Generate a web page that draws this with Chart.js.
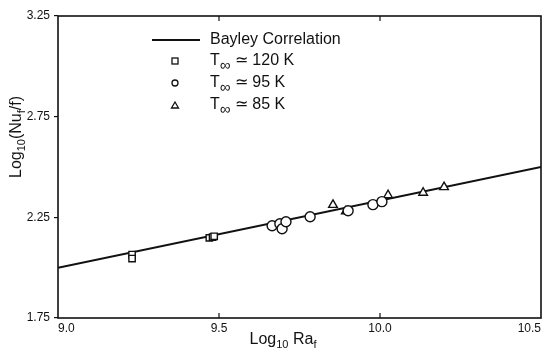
<!DOCTYPE html>
<html>
<head>
<meta charset="utf-8">
<script src="https://cdn.jsdelivr.net/npm/chart.js@4/dist/chart.umd.min.js"></script>
<style>
  html, body { margin: 0; padding: 0; background: #fff; }
  #wrap { width: 550px; height: 354px; position: relative; }
</style>
</head>
<body>
<div id="wrap"><canvas id="c"></canvas></div>
<script>
// Bayley correlation: log10(Nu/f) = log10(Ra)/3 - 1
const bayleyX = [9.0, 10.5];
const bayleyY = [2.0, 2.5];

// T_inf ~ 120 K (squares)
const t120X = [9.23, 9.23, 9.47, 9.48, 9.485];
const t120Y = [2.065, 2.045, 2.148, 2.152, 2.156];

// T_inf ~ 95 K (circles)
const t95X = [9.665, 9.689, 9.696, 9.708, 9.783, 9.901, 9.978, 10.006];
const t95Y = [2.208, 2.218, 2.193, 2.228, 2.253, 2.283, 2.313, 2.328];

// T_inf ~ 85 K (triangles)
const t85X = [9.854, 9.894, 10.025, 10.134, 10.199];
const t85Y = [2.312, 2.280, 2.360, 2.372, 2.400];

const xTicks = [9.0, 9.5, 10.0, 10.5];
const yTicks = [1.75, 2.25, 2.75, 3.25];

const FONT = '"Liberation Sans", Arial, sans-serif';

function pts(xs, ys) {
    return xs.map((x, i) => ({ x: x, y: ys[i] }));
}

// draws text with subscript parts, returns end x
function drawRich(ctx, parts, x, y, size) {
    let cx = x;
    for (const p of parts) {
        const s = p.sub ? Math.round(size * (p.scale || 0.68)) : size;
        ctx.font = s + 'px ' + FONT;
        ctx.fillText(p.t, cx, p.sub ? y + size * 0.3 : y);
        cx += ctx.measureText(p.t).width;
    }
    return cx;
}
function richWidth(ctx, parts, size) {
    let w = 0;
    for (const p of parts) {
        const s = p.sub ? Math.round(size * (p.scale || 0.68)) : size;
        ctx.font = s + 'px ' + FONT;
        w += ctx.measureText(p.t).width;
    }
    return w;
}

const decor = {
    id: 'decor',
    afterDraw(chart) {
        const ctx = chart.ctx;
        const a = chart.chartArea;
        const xs = chart.scales.x;
        ctx.save();
        ctx.strokeStyle = '#111';
        ctx.fillStyle = '#111';

        // frame
        ctx.lineWidth = 1.6;
        ctx.strokeRect(a.left, a.top, a.right - a.left, a.bottom - a.top);

        // inward ticks on top and bottom
        ctx.lineWidth = 1.2;
        for (const v of xTicks.slice(1, -1)) {
            const px = xs.getPixelForValue(v);
            ctx.beginPath();
            ctx.moveTo(px, a.bottom); ctx.lineTo(px, a.bottom - 5);
            ctx.moveTo(px, a.top); ctx.lineTo(px, a.top + 5);
            ctx.stroke();
        }

        // x title
        ctx.textBaseline = 'middle';
        ctx.textAlign = 'left';
        const xt = [{ t: 'Log' }, { t: '10', sub: true }, { t: ' Ra' }, { t: 'f', sub: true }];
        const xw = richWidth(ctx, xt, 16);
        drawRich(ctx, xt, 283 - xw / 2, 340, 16);

        // y title (rotated)
        ctx.save();
        ctx.translate(17, 137);
        ctx.rotate(-Math.PI / 2);
        const yt = [{ t: 'Log' }, { t: '10', sub: true }, { t: '(Nu' }, { t: 'f', sub: true }, { t: '/f)' }];
        const yw = richWidth(ctx, yt, 16);
        drawRich(ctx, yt, -yw / 2, 0, 16);
        ctx.restore();

        // legend
        const mx = 175, tx = 210;
        ctx.lineWidth = 1.8;
        ctx.beginPath();
        ctx.moveTo(152, 40); ctx.lineTo(200, 40);
        ctx.stroke();
        ctx.font = '16px ' + FONT;
        ctx.fillText('Bayley Correlation', tx, 40);

        ctx.lineWidth = 1.3;
        ctx.fillStyle = '#fff';
        ctx.strokeRect(mx - 3, 58, 6, 6);
        ctx.beginPath(); ctx.arc(mx, 83, 3, 0, Math.PI * 2); ctx.stroke();
        ctx.beginPath();
        ctx.moveTo(mx, 102); ctx.lineTo(mx + 3.5, 108); ctx.lineTo(mx - 3.5, 108); ctx.closePath();
        ctx.stroke();

        ctx.fillStyle = '#111';
        const rows = [['120 K', 61], ['95 K', 83], ['85 K', 105]];
        for (const r of rows) {
            drawRich(ctx, [{ t: 'T' }, { t: '\u221E', sub: true, scale: 0.95 }, { t: ' \u2243 ' + r[0] }], tx, r[1], 16);
        }
        ctx.restore();
    }
};

const marker = { backgroundColor: '#fff', borderColor: '#111', borderWidth: 1.4, showLine: false };

new Chart(document.getElementById('c'), {
    type: 'scatter',
    data: {
        datasets: [
            Object.assign({ label: 'T\u221E \u2243 120 K', data: pts(t120X, t120Y), pointStyle: 'rect', pointRadius: 4.5, order: 1 }, marker),
            Object.assign({ label: 'T\u221E \u2243 95 K', data: pts(t95X, t95Y), pointStyle: 'circle', pointRadius: 5, order: 1 }, marker),
            Object.assign({ label: 'T\u221E \u2243 85 K', data: pts(t85X, t85Y), pointStyle: 'triangle', pointRadius: 5, order: 1 }, marker),
            {
                label: 'Bayley Correlation',
                data: pts(bayleyX, bayleyY),
                showLine: true,
                borderColor: '#111',
                borderWidth: 2,
                pointRadius: 0,
                order: 2
            }
        ]
    },
    options: {
        responsive: true,
        maintainAspectRatio: false,
        animation: false,
        layout: { padding: { top: 16, right: 9, left: 0, bottom: 0 } },
        plugins: { legend: { display: false }, tooltip: { enabled: false } },
        scales: {
            x: {
                type: 'linear',
                min: 9.0, max: 10.5,
                afterBuildTicks: (s) => { s.ticks = xTicks.map(v => ({ value: v })); },
                afterFit: (s) => { s.height = 36; },
                grid: { display: false, drawTicks: false },
                border: { display: false },
                ticks: {
                    align: 'inner',
                    padding: 3,
                    color: '#111',
                    font: { family: FONT, size: 12 },
                    callback: (v) => Number(v).toFixed(1)
                }
            },
            y: {
                type: 'linear',
                min: 1.75, max: 3.25,
                afterBuildTicks: (s) => { s.ticks = yTicks.map(v => ({ value: v })); },
                afterFit: (s) => { s.width = 58; },
                grid: { drawOnChartArea: false, drawTicks: true, tickLength: 4, color: '#111', lineWidth: 1.2 },
                border: { display: false },
                ticks: {
                    padding: 4,
                    color: '#111',
                    font: { family: FONT, size: 12 },
                    callback: (v) => Number(v).toFixed(2)
                }
            }
        }
    },
    plugins: [decor]
});
</script>
</body>
</html>
